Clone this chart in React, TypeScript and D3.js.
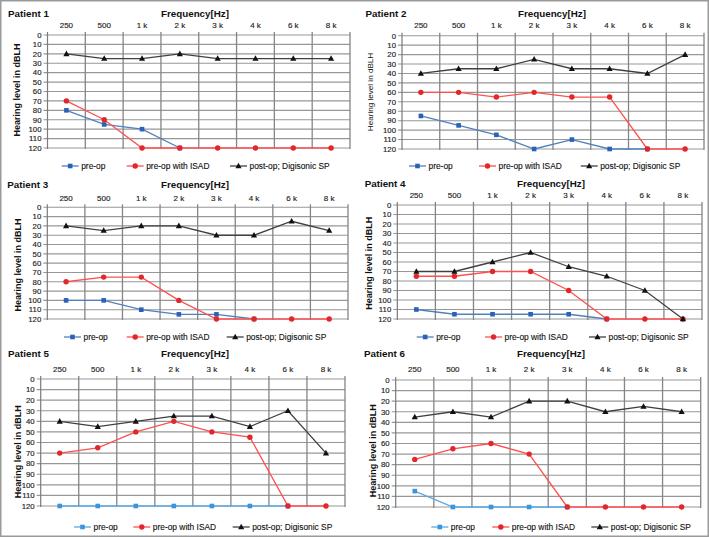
import React from 'react';
import * as d3 from 'd3';

const freqLabels = ['250', '500', '1 k', '2 k', '3 k', '4 k', '6 k', '8 k'];
const yTicks = [0, 10, 20, 30, 40, 50, 60, 70, 80, 90, 100, 110, 120];
const seriesNames = ['pre-op', 'pre-op with ISAD', 'post-op; Digisonic SP'];
const patientNames = ['Patient 1', 'Patient 2', 'Patient 3', 'Patient 4', 'Patient 5', 'Patient 6'];

type V = number | null;
const p1PreOp: V[] = [80, 95, 100, 120, null, null, null, null];
const p1Isad: V[] = [70, 90, 120, 120, 120, 120, 120, 120];
const p1PostOp: V[] = [20, 25, 25, 20, 25, 25, 25, 25];

const p2PreOp: V[] = [85, 95, 105, 120, 110, 120, 120, null];
const p2Isad: V[] = [60, 60, 65, 60, 65, 65, 120, 120];
const p2PostOp: V[] = [40, 35, 35, 25, 35, 35, 40, 20];

const p3PreOp: V[] = [100, 100, 110, 115, 115, 120, null, null];
const p3Isad: V[] = [80, 75, 75, 100, 120, 120, 120, 120];
const p3PostOp: V[] = [20, 25, 20, 20, 30, 30, 15, 25];

const p4PreOp: V[] = [110, 115, 115, 115, 115, 120, null, null];
const p4Isad: V[] = [75, 75, 70, 70, 90, 120, 120, 120];
const p4PostOp: V[] = [70, 70, 60, 50, 65, 75, 90, 120];

const p5PreOp: V[] = [120, 120, 120, 120, 120, 120, 120, null];
const p5Isad: V[] = [70, 65, 50, 40, 50, 55, 120, 120];
const p5PostOp: V[] = [40, 45, 40, 35, 35, 45, 30, 70];

const p6PreOp: V[] = [105, 120, 120, 120, 120, null, null, null];
const p6Isad: V[] = [75, 65, 60, 70, 120, 120, 120, 120];
const p6PostOp: V[] = [35, 30, 35, 20, 20, 30, 25, 30];

const patientData: V[][][] = [
  [p1PreOp, p1Isad, p1PostOp],
  [p2PreOp, p2Isad, p2PostOp],
  [p3PreOp, p3Isad, p3PostOp],
  [p4PreOp, p4Isad, p4PostOp],
  [p5PreOp, p5Isad, p5PostOp],
  [p6PreOp, p6Isad, p6PostOp],
];

// layout per panel
const layouts = [
  { left: 47.5, right: 350, top: 35, bottom: 148, titleX: 8, titleY: 16.5, freqX: 195, freqY: 16.5, tickY: 27.5, ylabX: 20, ylabY: 90, ylabSize: 9, ylabBold: true, legY: 166, legX: [61.7, 126.7, 230], preColor: '#4f81bd', preMarker: '#2a62b8' },
  { left: 402, right: 704, top: 35.7, bottom: 149, titleX: 365.5, titleY: 17, freqX: 552, freqY: 17, tickY: 28, ylabX: 372.5, ylabY: 92, ylabSize: 8.1, ylabBold: false, legY: 166, legX: [409, 479, 580.7], preColor: '#4f81bd', preMarker: '#2a62b8' },
  { left: 47.3, right: 348, top: 207.3, bottom: 319, titleX: 7.3, titleY: 187.5, freqX: 195, freqY: 187.5, tickY: 200.5, ylabX: 20.5, ylabY: 265, ylabSize: 9, ylabBold: true, legY: 337, legX: [64, 126.7, 226.7], preColor: '#4f81bd', preMarker: '#2a62b8' },
  { left: 397.3, right: 702, top: 205, bottom: 319, titleX: 364.7, titleY: 186.5, freqX: 551, freqY: 186.5, tickY: 198, ylabX: 372, ylabY: 263.3, ylabSize: 9, ylabBold: true, legY: 337, legX: [416.7, 485, 589], preColor: '#4f81bd', preMarker: '#2a62b8' },
  { left: 40.7, right: 345, top: 379, bottom: 506, titleX: 8, titleY: 357, freqX: 195, freqY: 357, tickY: 372, ylabX: 20.5, ylabY: 451.7, ylabSize: 9, ylabBold: true, legY: 527, legX: [74, 133.3, 232.7], preColor: '#5aa9e6', preMarker: '#3b95dd' },
  { left: 395.7, right: 700.7, top: 380, bottom: 507, titleX: 364, titleY: 357, freqX: 551, freqY: 357, tickY: 372, ylabX: 375.5, ylabY: 450.8, ylabSize: 9, ylabBold: true, legY: 527, legX: [431.3, 492.3, 591.3], preColor: '#5aa9e6', preMarker: '#3b95dd' },
];

const FONT = '"Liberation Sans", Arial, sans-serif';
const RED_LINE = '#ff5050';
const RED_MARK = '#e3262b';
const BLACK_LINE = '#404040';
const BLACK_MARK = '#111111';

function Marker({ kind, x, y, color }: { kind: number; x: number; y: number; color: string }) {
  if (kind === 0) return <rect x={x - 2.3} y={y - 2.3} width={4.6} height={4.6} fill={color} />;
  if (kind === 1) return <circle cx={x} cy={y} r={2.7} fill={color} />;
  return <path d={`M${x},${y - 3.3}L${x + 3.1},${y + 2.3}L${x - 3.1},${y + 2.3}Z`} fill={color} />;
}

function Panel({ idx }: { idx: number }) {
  const L = layouts[idx];
  const data = patientData[idx];
  const x = d3.scaleBand<string>().domain(freqLabels).range([L.left, L.right]);
  const y = d3.scaleLinear().domain([0, 120]).range([L.top, L.bottom]);
  const cx = (i: number) => (x(freqLabels[i]) as number) + x.bandwidth() / 2;
  const lineColors = [L.preColor, RED_LINE, BLACK_LINE];
  const markColors = [L.preMarker, RED_MARK, BLACK_MARK];
  const lineGen = d3
    .line<V>()
    .defined((d) => d !== null)
    .x((_, i) => cx(i))
    .y((d) => y(d as number));
  return (
    <g>
      <text x={L.titleX} y={L.titleY} fontFamily={FONT} fontWeight="bold" fontSize={9.8} fill="#111">
        {patientNames[idx]}
      </text>
      <text x={L.freqX} y={L.freqY} fontFamily={FONT} fontWeight="bold" fontSize={9.8} fill="#111" textAnchor="middle">
        Frequency[Hz]
      </text>
      {freqLabels.map((f, i) => (
        <text key={f} x={cx(i)} y={L.tickY} fontFamily={FONT} fontSize={8} fill="#222" stroke="#222" strokeWidth={0.15} textAnchor="middle">
          {f}
        </text>
      ))}
      {yTicks.map((t) => (
        <g key={t}>
          <line x1={L.left - 4} x2={L.right} y1={y(t)} y2={y(t)} stroke="#979797" strokeWidth={1.1} />
          <text x={L.left - 6} y={y(t) + 2.8} fontFamily={FONT} fontSize={7.8} fill="#222" stroke="#222" strokeWidth={0.15} textAnchor="end">
            {t}
          </text>
        </g>
      ))}
      {freqLabels.map((f, i) => (
        <line
          key={'v' + f}
          x1={(x(f) as number) + x.bandwidth()}
          x2={(x(f) as number) + x.bandwidth()}
          y1={L.top - 3}
          y2={L.bottom + 1}
          stroke="#858585"
          strokeWidth={1.3}
        />
      ))}
      <line x1={L.left} x2={L.left} y1={L.top - 3} y2={L.bottom + 1} stroke="#7a7a7a" strokeWidth={1.2} />
      <text
        transform={`translate(${L.ylabX},${L.ylabY}) rotate(-90)`}
        fontFamily={FONT}
        fontWeight={L.ylabBold ? 'bold' : 'normal'}
        fontSize={L.ylabSize}
        fill="#111"
        textAnchor="middle"
      >
        Hearing level in dBLH
      </text>
      {data.map((s, k) => (
        <g key={'s' + k}>
          <path d={lineGen(s) || ''} fill="none" stroke={lineColors[k]} strokeWidth={1.3} />
          {s.map((v, i) =>
            v === null ? null : <Marker key={i} kind={k} x={cx(i)} y={y(v)} color={markColors[k]} />
          )}
        </g>
      ))}
      {seriesNames.map((n, k) => (
        <g key={'l' + k}>
          <line x1={L.legX[k]} x2={L.legX[k] + 17} y1={L.legY} y2={L.legY} stroke={lineColors[k]} strokeWidth={1.3} />
          <Marker kind={k} x={L.legX[k] + 8.5} y={L.legY} color={markColors[k]} />
          <text x={L.legX[k] + 19.5} y={L.legY + 3} fontFamily={FONT} fontSize={8.4} fill="#111" stroke="#111" strokeWidth={0.12}>
            {n}
          </text>
        </g>
      ))}
    </g>
  );
}

export default function App() {
  return (
    <svg
      width={709}
      height={537}
      style={{ position: 'absolute', left: 0, top: 0, background: '#fff' }}
      xmlns="http://www.w3.org/2000/svg"
    >
      <rect x={0} y={0} width={709} height={537} fill="#fff" />
      {patientNames.map((_, i) => (
        <Panel key={i} idx={i} />
      ))}
      <rect x={0.75} y={0.75} width={707.5} height={535.5} fill="none" stroke="#9a9a9a" strokeWidth={1.5} />
    </svg>
  );
}
